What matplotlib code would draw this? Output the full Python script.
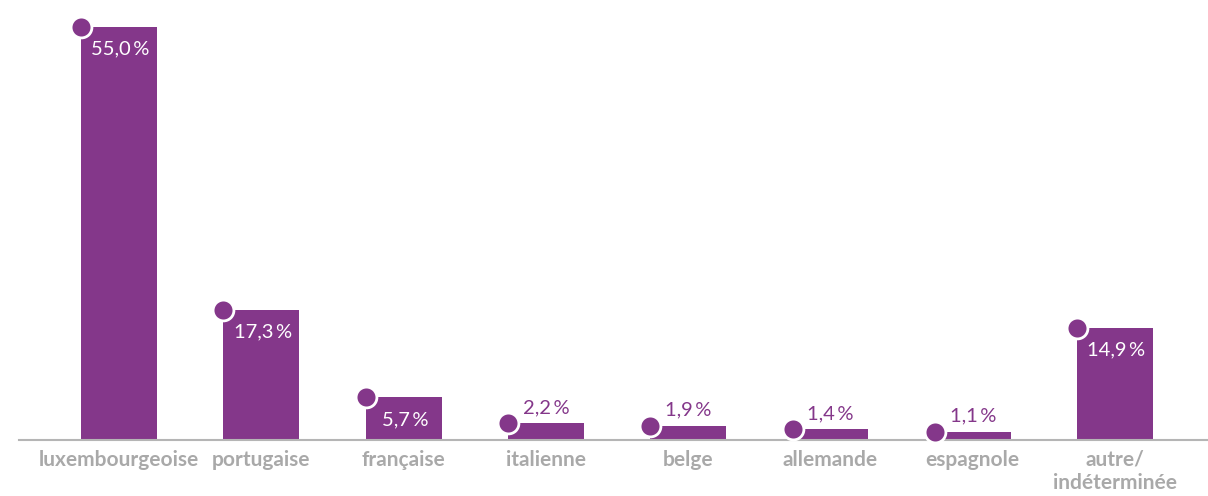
import matplotlib
matplotlib.use('Agg')
import matplotlib.pyplot as plt
import numpy as np

# données
categories = ['luxembourgeoise', 'portugaise', 'française', 'italienne',
              'belge', 'allemande', 'espagnole', 'autre/\nindéterminée']
values = [55.0, 17.3, 5.7, 2.2, 1.9, 1.4, 1.1, 14.9]
labels = ['55,0\u2009%', '17,3\u2009%', '5,7\u2009%', '2,2\u2009%', '1,9\u2009%',
          '1,4\u2009%', '1,1\u2009%', '14,9\u2009%']

purple = '#84378a'
grey = '#a9a9a9'

plt.rcParams['font.family'] = ['Lato', 'DejaVu Sans']

fig = plt.figure(figsize=(12.08, 4.96), dpi=100)
ax = fig.add_axes([19/1208, 56/496, 1 - 19/1208, 1 - 56/496])

x = np.arange(len(categories))
w = 0.534
ax.bar(x, values, width=w, color=purple, zorder=2)
ax.plot(x - w/2, values, 'o', ms=15, color=purple, mec='white', mew=2,
        zorder=3, clip_on=False)

for xi, v, lab in zip(x, values, labels):
    if v > 5:
        ax.annotate(lab, (xi, v), xytext=(1, -16), textcoords='offset points',
                    ha='center', va='center', color='white', fontsize=14.5)
    else:
        ax.annotate(lab, (xi, v), xytext=(0, 11.5), textcoords='offset points',
                    ha='center', va='center', color=purple, fontsize=14.5)

ax.set_xlim(-0.703, 7.653)
ax.set_ylim(0, 58.6)
for s in ['top', 'right', 'left']:
    ax.spines[s].set_visible(False)
ax.spines['bottom'].set_color('#b5b5b5')
ax.spines['bottom'].set_linewidth(1.5)
ax.set_yticks([])
ax.set_xticks(x)
ax.set_xticklabels(categories, color=grey, fontsize=15, fontweight='bold',
                   linespacing=1.2, va='top')
ax.tick_params(axis='x', length=0, pad=7)

plt.savefig('out.png', dpi=100)
